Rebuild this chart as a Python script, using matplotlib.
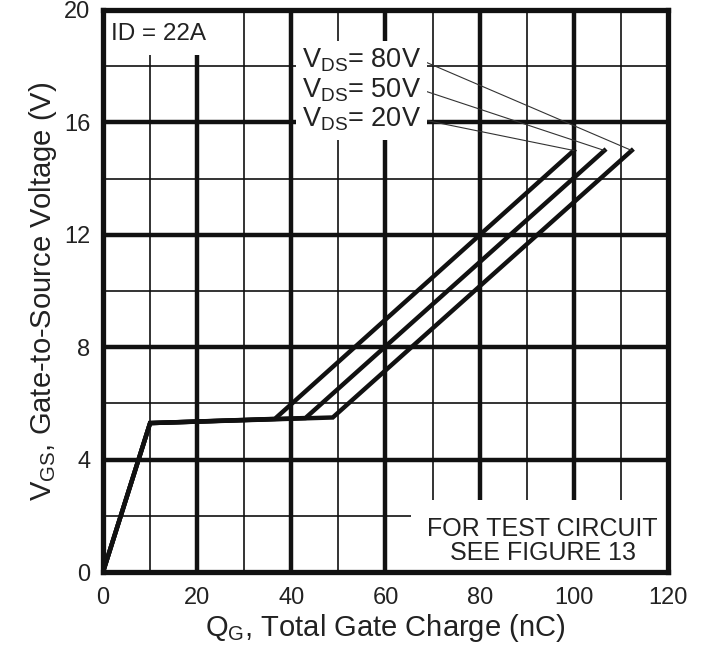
import matplotlib
matplotlib.use("Agg")
import matplotlib.pyplot as plt

plt.rcParams['font.family'] = ['Liberation Sans', 'DejaVu Sans']
plt.rcParams['mathtext.fontset'] = 'custom'
plt.rcParams['mathtext.rm'] = 'Liberation Sans'

# gate charge curves (Qg in nC, Vgs in V)
qg_20v = [0, 10, 36.5, 100]
vgs_20v = [0, 5.3, 5.45, 15]
qg_50v = [0, 10, 43, 106.5]
vgs_50v = [0, 5.3, 5.48, 15]
qg_80v = [0, 10, 48.8, 112.3]
vgs_80v = [0, 5.3, 5.5, 15]

x_ticks = [0, 20, 40, 60, 80, 100, 120]
y_ticks = [0, 4, 8, 12, 16, 20]

fig = plt.figure(figsize=(7.07, 6.53), dpi=100)
ax = fig.add_axes([0.1457, 0.124, 0.7991, 0.8607])
ax.set_xlim(0, 120)
ax.set_ylim(0, 20)

# griglia: linee spesse ogni tick principale, sottili in mezzo
for x in range(10, 120, 10):
    lw = 3.2 if x % 20 == 0 else 1.2
    ax.axvline(x, color='#111111', lw=lw, zorder=1)
for y in range(2, 20, 2):
    lw = 3.2 if y % 4 == 0 else 1.2
    ax.axhline(y, color='#111111', lw=lw, zorder=1)

for q, v in [(qg_20v, vgs_20v), (qg_50v, vgs_50v), (qg_80v, vgs_80v)]:
    ax.plot(q, v, color='#111111', lw=3.2, solid_joinstyle='miter', zorder=3)

ax.set_xticks(x_ticks)
ax.set_yticks(y_ticks)
ax.tick_params(length=0, labelsize=17, colors='#222222')
ax.tick_params(axis='x', pad=11)
ax.tick_params(axis='y', pad=9)
for s in ax.spines.values():
    s.set_linewidth(3.8)
    s.set_color('#111111')
    s.set_zorder(5)

ax.set_xlabel(r'Q$_\mathrm{G}$, Total Gate Charge (nC)', fontsize=21, labelpad=2, color='#222222')
ax.set_ylabel(r'V$_\mathrm{GS}$, Gate-to-Source Voltage (V)', fontsize=21, labelpad=4, color='#222222')

ax.text(1.8, 19.15, 'ID = 22A', fontsize=17.5, va='center', ha='left', color='#222222',
        bbox=dict(facecolor='white', edgecolor='none', pad=7), zorder=4)

labels = [r'V$_\mathrm{DS}$= 80V', r'V$_\mathrm{DS}$= 50V', r'V$_\mathrm{DS}$= 20V']
label_y = [18.2, 17.15, 16.1]
ends = [(qg_80v[-1], vgs_80v[-1]), (qg_50v[-1], vgs_50v[-1]), (qg_20v[-1], vgs_20v[-1])]
for lab, ly, (ex, ey) in zip(labels, label_y, ends):
    ax.plot([67.8, ex], [ly, ey], color='#333333', lw=0.8, zorder=3)
    # prima lo sfondo bianco, poi il testo sopra (così i box non tagliano i pedici)
    ax.text(67.5, ly, lab, fontsize=19.5, ha='right', va='center', color='none',
            bbox=dict(facecolor='white', edgecolor='none', pad=4.5), zorder=4)
    ax.text(67.5, ly, lab, fontsize=19.5, ha='right', va='center', color='#222222', zorder=4.5)

ax.text(93.4, 1.1, 'FOR TEST CIRCUIT\nSEE FIGURE 13', fontsize=18, ha='center', va='center',
        linespacing=1.0, color='#222222', bbox=dict(facecolor='white', edgecolor='none', pad=12), zorder=4)

fig.savefig('out.png', dpi=100)
